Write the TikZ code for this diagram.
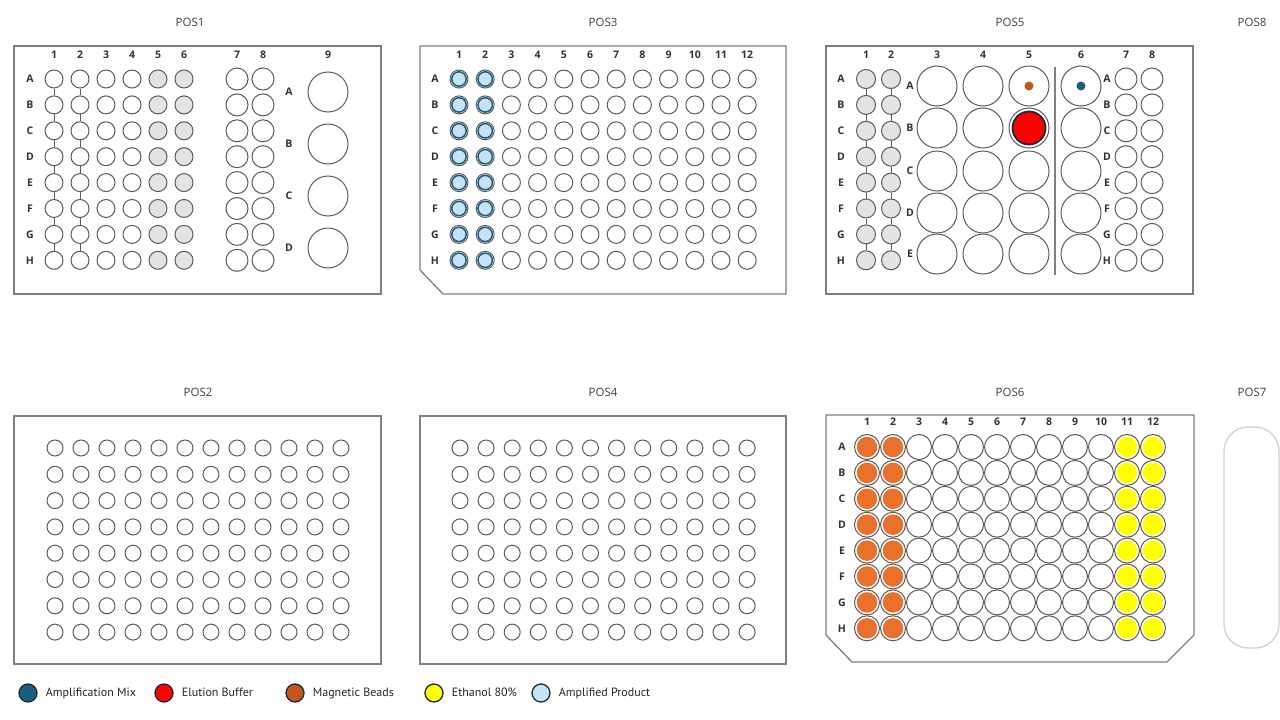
\documentclass[tikz,border=0pt]{standalone}
\usepackage{fontspec}
\setmainfont{Open Sans}
\newfontfamily\legendfont{PT Sans}
\usetikzlibrary{positioning}
\definecolor{PlateGray}{HTML}{808080}
\definecolor{WellGray}{HTML}{5C5C5C}
\definecolor{FillGray}{HTML}{E3E3E3}
\definecolor{ProdBlue}{HTML}{C5E3F5}
\definecolor{MixBlue}{HTML}{1B5C80}
\definecolor{BeadBrown}{HTML}{C4561C}
\definecolor{BeadOrange}{HTML}{E8712C}
\definecolor{EthYellow}{HTML}{FFFF00}
\definecolor{ElutRed}{HTML}{FF0000}
\definecolor{RingDark}{HTML}{1C2B33}

\tikzset{
  plate/.style={draw=PlateGray, line width=1.3pt},
  well/.style={circle, draw=WellGray, line width=1pt, fill=white,
               inner sep=0pt, minimum size=#1},
  well/.default=18pt,
  link/.style={draw=WellGray, line width=1pt},
  lbl/.style={font=\bfseries\fontsize{10.5}{12}\selectfont, text=black!80, inner sep=1pt},
  title/.style={font=\fontsize{11.5}{13}\selectfont, text=black!75},
  legwell/.style={circle, draw=RingDark, line width=1.3pt, inner sep=0pt, minimum size=18pt},
  legtext/.style={font=\legendfont\fontsize{12}{14}\selectfont, text=black!85, inner sep=2pt,
                  text height=1.6ex, text depth=.4ex}
}

\begin{document}
\begin{tikzpicture}[x=1pt, y=-1pt]
  \useasboundingbox (0,0) rectangle (1280,720);

  % ---- POS1
  \node[title] (t1) at (190,22) {POS1};
  \draw[plate] (14,46) rectangle (381,294);
  \foreach \c in {1,...,6}{
    \pgfmathsetmacro\x{54+26*(\c-1)}
    \node[lbl] (p1-n\c) at (\x,55) {\c};
  }
  \node[lbl] (p1-n7) at (237,55) {7};
  \node[lbl] (p1-n8) at (263,55) {8};
  \node[lbl] (p1-n9) at (328,55) {9};
  \foreach \r [count=\i from 0] in {A,...,H}{
    \pgfmathsetmacro\y{79+25.9*\i}
    \node[lbl] (p1-l\r) at (30,\y) {\r};
    \foreach \c in {1,...,6}{
      \pgfmathsetmacro\x{54+26*(\c-1)}
      \ifnum\c>4 \def\wf{FillGray}\else\def\wf{white}\fi
      \node[well=18pt, fill=\wf] (p1-\c\r) at (\x,\y) {};
    }
    \foreach \c/\x in {7/237,8/263}
      \node[well=22pt] (p1-\c\r) at (\x,\y) {};
  }
  \foreach \c in {1,2}
    \foreach \a/\b in {A/B,B/C,C/D,D/E,E/F,F/G,G/H}
      \draw[link] (p1-\c\a) -- (p1-\c\b);
  \foreach \r/\y in {A/92,B/144,C/196,D/248}{
    \node[lbl] (p1-l9\r) at (289,\y) {\r};
    \node[well=40pt] (p1-9\r) at (328,\y) {};
  }

  % ---- POS3
  \node[title] (t3) at (603,22) {POS3};
  \draw[plate] (420,46) -- (786,46) -- (786,294) -- (443,294) -- (420,270) -- cycle;
  \foreach \c in {1,...,12}{
    \pgfmathsetmacro\x{459+26.2*(\c-1)}
    \node[lbl] (p3-n\c) at (\x,55) {\c};
  }
  \foreach \r [count=\i from 0] in {A,...,H}{
    \pgfmathsetmacro\y{79+25.9*\i}
    \node[lbl] (p3-l\r) at (435,\y) {\r};
    \foreach \c in {1,...,12}{
      \pgfmathsetmacro\x{459+26.2*(\c-1)}
      \node[well=18pt] (p3-\c\r) at (\x,\y) {};
    }
    \foreach \c in {1,2}
      \filldraw[fill=ProdBlue, draw=MixBlue, line width=1.5pt] (p3-\c\r) circle[radius=7.2pt];
  }

  % ---- POS5
  \node[title] (t5) at (1010,22) {POS5};
  \node[title] (t8) at (1252,22) {POS8};
  \draw[plate] (826,46) rectangle (1193,294);
  \foreach \c/\x in {1/866,2/891,3/937,4/983,5/1029,6/1081,7/1126,8/1152}
    \node[lbl] (p5-n\c) at (\x,55) {\c};
  \foreach \r [count=\i from 0] in {A,...,H}{
    \pgfmathsetmacro\y{79+25.9*\i}
    \node[lbl] (p5-l\r) at (841,\y) {\r};
    \node[lbl] (p5-m\r) at (1107,\y) {\r};
    \foreach \c/\x in {1/866,2/891}
      \node[well=19pt, fill=FillGray] (p5-\c\r) at (\x,\y) {};
    \foreach \c/\x in {7/1126,8/1152}
      \node[well=22pt] (p5-\c\r) at (\x,\y) {};
  }
  \foreach \c in {1,2}
    \foreach \a/\b in {A/B,B/C,C/D,D/E,E/F,F/G,G/H}
      \draw[link] (p5-\c\a) -- (p5-\c\b);
  \foreach \r/\y in {A/86,B/128,C/171,D/213,E/254}{
    \node[lbl] (p5-k\r) at (910,\y) {\r};
    \foreach \c/\x in {3/937,4/983,5/1029,6/1081}
      \node[well=40pt] (p5-\c\r) at (\x,\y) {};
  }
  \coordinate (p5-top) at (1055,67);
  \coordinate (p5-bot) at (1055,275);
  \draw[link, draw=PlateGray, line width=1.3pt] (p5-top) -- (p5-bot);
  \fill[BeadBrown] (p5-5A) circle[radius=4.5pt];
  \fill[MixBlue] (p5-6A) circle[radius=4.5pt];
  \filldraw[fill=ElutRed, draw=RingDark, line width=1.8pt] (p5-5B) circle[radius=16.5pt];

  % ---- POS2
  \node[title] (t2) at (198,392) {POS2};
  \draw[plate] (14,416) rectangle (381,664);
  \foreach \r [count=\i from 0] in {A,...,H}{
    \pgfmathsetmacro\y{448+26.3*\i}
    \foreach \c in {1,...,12}{
      \pgfmathsetmacro\x{55+26*(\c-1)}
      \node[well=16pt] (p2-\c\r) at (\x,\y) {};
    }
  }

  % ---- POS4
  \node[title] (t4) at (603,392) {POS4};
  \draw[plate] (420,416) rectangle (786,664);
  \foreach \r [count=\i from 0] in {A,...,H}{
    \pgfmathsetmacro\y{448+26.3*\i}
    \foreach \c in {1,...,12}{
      \pgfmathsetmacro\x{460+26.1*(\c-1)}
      \node[well=16pt] (p4-\c\r) at (\x,\y) {};
    }
  }

  % ---- POS6
  \node[title] (t6) at (1010,392) {POS6};
  \draw[plate] (826,415) -- (1194,415) -- (1194,635) -- (1167,662)
               -- (852,662) -- (826,635) -- cycle;
  \foreach \c in {1,...,12}{
    \pgfmathsetmacro\x{867+26*(\c-1)}
    \node[lbl] (p6-n\c) at (\x,422) {\c};
  }
  \foreach \r [count=\i from 0] in {A,...,H}{
    \pgfmathsetmacro\y{447+25.9*\i}
    \node[lbl] (p6-l\r) at (842,\y) {\r};
    \foreach \c in {1,...,12}{
      \pgfmathsetmacro\x{867+26*(\c-1)}
      \node[well=25pt] (p6-\c\r) at (\x,\y) {};
    }
    \foreach \c in {1,2}
      \fill[BeadOrange] (p6-\c\r) circle[radius=10.3pt];
    \foreach \c in {11,12}
      \fill[EthYellow] (p6-\c\r) circle[radius=10.3pt];
  }

  % ---- POS7
  \node[title] (t7) at (1252,392) {POS7};
  \draw[draw=black!18, line width=1.3pt, rounded corners=24pt] (1224,427) rectangle (1279,648);

  % ---- legend
  \node[legwell, fill=MixBlue] (leg1) at (28,693) {};
  \node[legtext, right=6pt of leg1] (leg1t) {Amplification Mix};
  \node[legwell, fill=ElutRed] (leg2) at (164,693) {};
  \node[legtext, right=6pt of leg2] (leg2t) {Elution Buffer};
  \node[legwell, fill=BeadBrown] (leg3) at (295,693) {};
  \node[legtext, right=6pt of leg3] (leg3t) {Magnetic Beads};
  \node[legwell, fill=EthYellow] (leg4) at (434,693) {};
  \node[legtext, right=6pt of leg4] (leg4t) {Ethanol 80\%};
  \node[legwell, fill=ProdBlue] (leg5) at (541,693) {};
  \node[legtext, right=6pt of leg5] (leg5t) {Amplified Product};
\end{tikzpicture}
\end{document}
